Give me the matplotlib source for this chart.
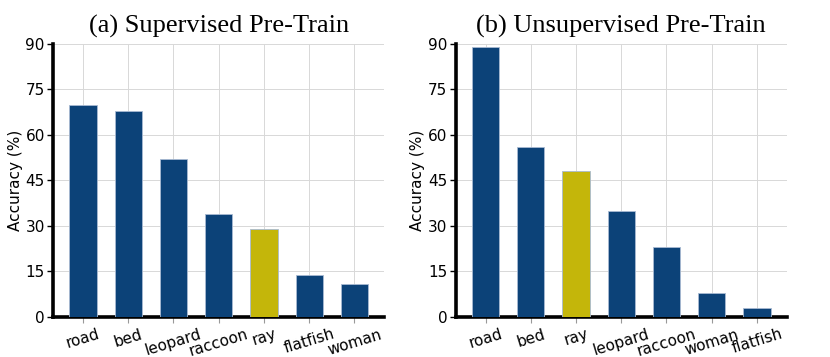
import matplotlib
matplotlib.use('Agg')
import matplotlib.pyplot as plt

# data
sup_labels = ['road', 'bed', 'leopard', 'raccoon', 'ray', 'flatfish', 'woman']
sup_values = [70, 68, 52, 34, 29, 14, 11]
unsup_labels = ['road', 'bed', 'ray', 'leopard', 'raccoon', 'woman', 'flatfish']
unsup_values = [89, 56, 48, 35, 23, 8, 3]
titles = ['(a) Supervised Pre-Train', '(b) Unsupervised Pre-Train']
highlight = 'ray'

navy = '#0c4278'
yellow = '#c4b60a'

fig = plt.figure(figsize=(8.3, 3.57), dpi=100)
ax1 = fig.add_axes([0.064, 0.112, 0.399, 0.765])
ax2 = fig.add_axes([0.549, 0.112, 0.399, 0.765])

for ax, labels, values, title in [(ax1, sup_labels, sup_values, titles[0]),
                                  (ax2, unsup_labels, unsup_values, titles[1])]:
    colors = [yellow if l == highlight else navy for l in labels]
    x = range(len(labels))
    ax.bar(x, values, width=0.6, color=colors, edgecolor='#a8bad2',
           linewidth=0.6, zorder=3)
    ax.set_xlim(-0.66, len(labels) - 0.34)
    ax.set_ylim(0, 90)
    ax.set_yticks([0, 15, 30, 45, 60, 75, 90])
    ax.set_xticks(list(x))
    ax.set_xticklabels(labels, rotation=17, fontsize=11)
    ax.tick_params(axis='y', labelsize=11, length=4, width=1, pad=2)
    ax.tick_params(axis='x', length=4, width=0.8, color='#999999', pad=3)
    ax.grid(True, color='#d8d8d8', linewidth=0.7, zorder=0)
    ax.spines['top'].set_visible(False)
    ax.spines['right'].set_visible(False)
    ax.spines['left'].set_linewidth(2.6)
    ax.spines['bottom'].set_linewidth(2.6)
    ax.set_ylabel('Accuracy (%)', fontsize=11, labelpad=2)
    ax.set_title(title, fontsize=19, family='Liberation Serif', pad=8)

fig.savefig('out.png', dpi=100)
